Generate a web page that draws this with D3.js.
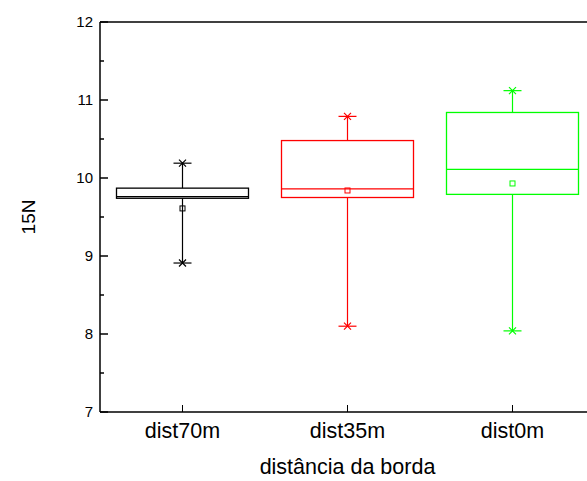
<!DOCTYPE html>
<html>
<head>
<meta charset="utf-8">
<script src="https://cdn.jsdelivr.net/npm/d3@7"></script>
<style>
  body { margin: 0; background: #fff; }
  text { font-family: "Liberation Sans", Arial, sans-serif; }
</style>
</head>
<body>
<div id="chart"></div>
<script>
var width = 587, height = 481;
var margin = { left: 100, top: 22, bottom: 69 };

// box plot values
var groups = ["dist70m", "dist35m", "dist0m"];
var colors = ["#000000", "#ff0000", "#00ff00"];
var whiskerLow = [8.91, 8.10, 8.04];
var q1 = [9.74, 9.75, 9.79];
var median = [9.76, 9.86, 10.11];
var q3 = [9.87, 10.48, 10.84];
var whiskerHigh = [10.19, 10.79, 11.12];
var means = [9.61, 9.84, 9.93];
var yTicks = [7, 8, 9, 10, 11, 12];
var yMinor = [7.5, 8.5, 9.5, 10.5, 11.5];

var svg = d3.select("#chart").append("svg")
    .attr("width", width)
    .attr("height", height);

// x runs from 0.5 to 3.5, right edge falls just off the page
var x = d3.scaleLinear()
    .domain([0.5, 3.5])
    .range([margin.left, margin.left + 495]);

var y = d3.scaleLinear()
    .domain([7, 12])
    .range([height - margin.bottom, margin.top]);

var step = x(2) - x(1);
var boxW = step * 0.8;

// frame
svg.append("line")
    .attr("x1", x(0.5)).attr("x2", x(3.5))
    .attr("y1", y(12)).attr("y2", y(12))
    .attr("stroke", "#000").attr("stroke-width", 1.5);
svg.append("line")
    .attr("x1", x(0.5)).attr("x2", x(3.5))
    .attr("y1", y(7)).attr("y2", y(7))
    .attr("stroke", "#000").attr("stroke-width", 1.5);
svg.append("line")
    .attr("x1", x(0.5)).attr("x2", x(0.5))
    .attr("y1", y(7)).attr("y2", y(12))
    .attr("stroke", "#000").attr("stroke-width", 1.5);

// y ticks, pointing inward
svg.selectAll(".ytick")
    .data(yTicks)
    .enter().append("line")
    .attr("x1", x(0.5)).attr("x2", x(0.5) + 8)
    .attr("y1", function (d) { return y(d); })
    .attr("y2", function (d) { return y(d); })
    .attr("stroke", "#000").attr("stroke-width", 1.5);

svg.selectAll(".yminor")
    .data(yMinor)
    .enter().append("line")
    .attr("x1", x(0.5)).attr("x2", x(0.5) + 4)
    .attr("y1", function (d) { return y(d); })
    .attr("y2", function (d) { return y(d); })
    .attr("stroke", "#000").attr("stroke-width", 1.5);

svg.selectAll(".ylabel")
    .data(yTicks)
    .enter().append("text")
    .attr("x", x(0.5) - 7)
    .attr("y", function (d) { return y(d) + 5; })
    .attr("text-anchor", "end")
    .style("font-size", "15px")
    .text(function (d) { return d; });

// x ticks
svg.selectAll(".xtick")
    .data(groups)
    .enter().append("line")
    .attr("x1", function (d, i) { return x(i + 1); })
    .attr("x2", function (d, i) { return x(i + 1); })
    .attr("y1", y(7)).attr("y2", y(7) - 7)
    .attr("stroke", "#000").attr("stroke-width", 1);

svg.selectAll(".xlabel")
    .data(groups)
    .enter().append("text")
    .attr("x", function (d, i) { return x(i + 1); })
    .attr("y", 438)
    .attr("text-anchor", "middle")
    .style("font-size", "21.5px")
    .text(function (d) { return d; });

// axis titles
svg.append("text")
    .attr("x", x(2))
    .attr("y", 474)
    .attr("text-anchor", "middle")
    .style("font-size", "21.5px")
    .text("distância da borda");

svg.append("text")
    .attr("transform", "translate(35," + y(9.5) + ") rotate(-90)")
    .attr("text-anchor", "middle")
    .style("font-size", "19px")
    .text("15N");

// boxes
var box = svg.selectAll(".box")
    .data(groups)
    .enter().append("g")
    .attr("class", "box");

box.each(function (d, i) {
    var g = d3.select(this);
    var cx = x(i + 1);
    var c = colors[i];

    // whisker
    g.append("line")
        .attr("x1", cx).attr("x2", cx)
        .attr("y1", y(whiskerLow[i])).attr("y2", y(whiskerHigh[i]))
        .attr("stroke", c).attr("stroke-width", 1.2);

    g.append("rect")
        .attr("x", cx - boxW / 2)
        .attr("y", y(q3[i]))
        .attr("width", boxW)
        .attr("height", y(q1[i]) - y(q3[i]))
        .attr("fill", "#fff")
        .attr("stroke", c).attr("stroke-width", 1.3);

    g.append("line")
        .attr("x1", cx - boxW / 2).attr("x2", cx + boxW / 2)
        .attr("y1", y(median[i])).attr("y2", y(median[i]))
        .attr("stroke", c).attr("stroke-width", 1.2);

    // mean marker
    g.append("rect")
        .attr("x", cx - 2.5).attr("y", y(means[i]) - 2.5)
        .attr("width", 5).attr("height", 5)
        .attr("fill", "none")
        .attr("stroke", c).attr("stroke-width", 1);

    // whisker ends: dash plus cross
    [whiskerLow[i], whiskerHigh[i]].forEach(function (v) {
        var yy = y(v);
        g.append("line")
            .attr("x1", cx - 9).attr("x2", cx + 9)
            .attr("y1", yy).attr("y2", yy)
            .attr("stroke", c).attr("stroke-width", 1.2);
        g.append("path")
            .attr("d", "M" + (cx - 3.5) + "," + (yy - 3.5) + "L" + (cx + 3.5) + "," + (yy + 3.5) +
                "M" + (cx - 3.5) + "," + (yy + 3.5) + "L" + (cx + 3.5) + "," + (yy - 3.5))
            .attr("stroke", c).attr("stroke-width", 1.2);
    });
});
</script>
</body>
</html>
